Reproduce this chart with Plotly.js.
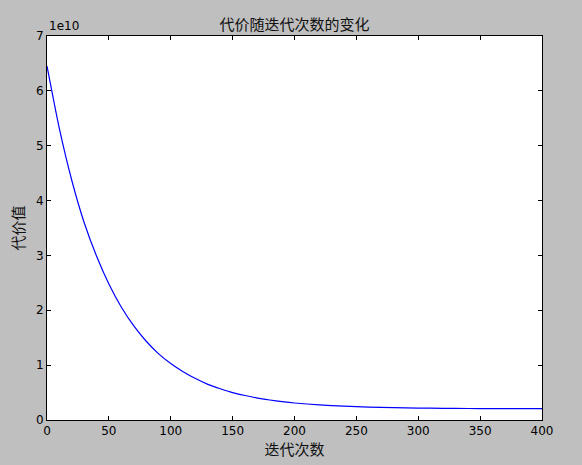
<!DOCTYPE html>
<html>
<head>
<meta charset="utf-8">
<script src="https://cdn.plot.ly/plotly-3.0.1.min.js"></script>
<style>html,body{margin:0;padding:0;background:#bfbfbf;}#chart{width:582px;height:465px;}</style>
</head>
<body>
<div id="chart"></div>
<script>
// iterations (x) and cost values (y, in units of 1e10)
var iterations = [0, 10, 20, 30, 40, 50, 60, 70, 80, 90, 100, 110, 120, 130, 140, 150, 160, 170, 180, 190, 200, 220, 240, 260, 280, 300, 320, 340, 360, 380, 400];
var costE10 = [6.45, 5.31, 4.37, 3.60, 2.99, 2.48, 2.06, 1.72, 1.44, 1.21, 1.03, 0.88, 0.755, 0.65, 0.57, 0.50, 0.447, 0.40, 0.365, 0.335, 0.31, 0.275, 0.252, 0.236, 0.226, 0.218, 0.213, 0.210, 0.208, 0.207, 0.206];
var xTicks = [0, 50, 100, 150, 200, 250, 300, 350, 400];
var yTickLabels = ['0', '1', '2', '3', '4', '5', '6', '7'];
var scale = 1e10;

var costs = costE10.map(function (v) { return v * scale; });
var yTickVals = yTickLabels.map(function (t) { return Number(t) * scale; });

var cjk = '"Noto Sans CJK SC", "DejaVu Sans", sans-serif';
var numFont = {family: '"DejaVu Sans", sans-serif', size: 12, color: '#000'};

var trace = {
  x: iterations,
  y: costs,
  type: 'scatter',
  mode: 'lines',
  line: {color: '#0000ff', width: 1.2, shape: 'spline', smoothing: 0.6},
  hoverinfo: 'none'
};

var axisCommon = {
  showgrid: false,
  zeroline: false,
  showline: true,
  linecolor: '#000',
  linewidth: 1,
  mirror: 'allticks',
  ticks: 'inside',
  ticklen: 4,
  tickwidth: 1,
  tickcolor: '#000',
  tickfont: numFont
};

var layout = {
  width: 582,
  height: 465,
  paper_bgcolor: '#bfbfbf',
  plot_bgcolor: '#ffffff',
  margin: {l: 47, r: 40, t: 36, b: 45},
  showlegend: false,
  title: {
    text: '代价随迭代次数的变化',
    font: {family: cjk, size: 15, color: '#111'},
    x: 0.5, xref: 'paper', xanchor: 'center',
    y: 1, yref: 'paper', yanchor: 'bottom', pad: {b: 6}
  },
  xaxis: Object.assign({}, axisCommon, {
    range: [0, 400],
    tickvals: xTicks,
    ticktext: xTicks.map(String),
    title: {text: '迭代次数', font: {family: cjk, size: 15, color: '#111'}, standoff: 6}
  }),
  yaxis: Object.assign({}, axisCommon, {
    range: [0, 7 * scale],
    tickvals: yTickVals,
    ticktext: yTickLabels,
    title: {text: '代价值', font: {family: cjk, size: 15, color: '#111'}, standoff: 7}
  }),
  annotations: [{
    text: '1e10',
    xref: 'paper', yref: 'paper',
    x: 0, y: 1,
    xanchor: 'left', yanchor: 'bottom',
    showarrow: false,
    font: numFont,
    yshift: 1
  }]
};

Plotly.newPlot('chart', [trace], layout, {displayModeBar: false, staticPlot: true});
</script>
</body>
</html>
